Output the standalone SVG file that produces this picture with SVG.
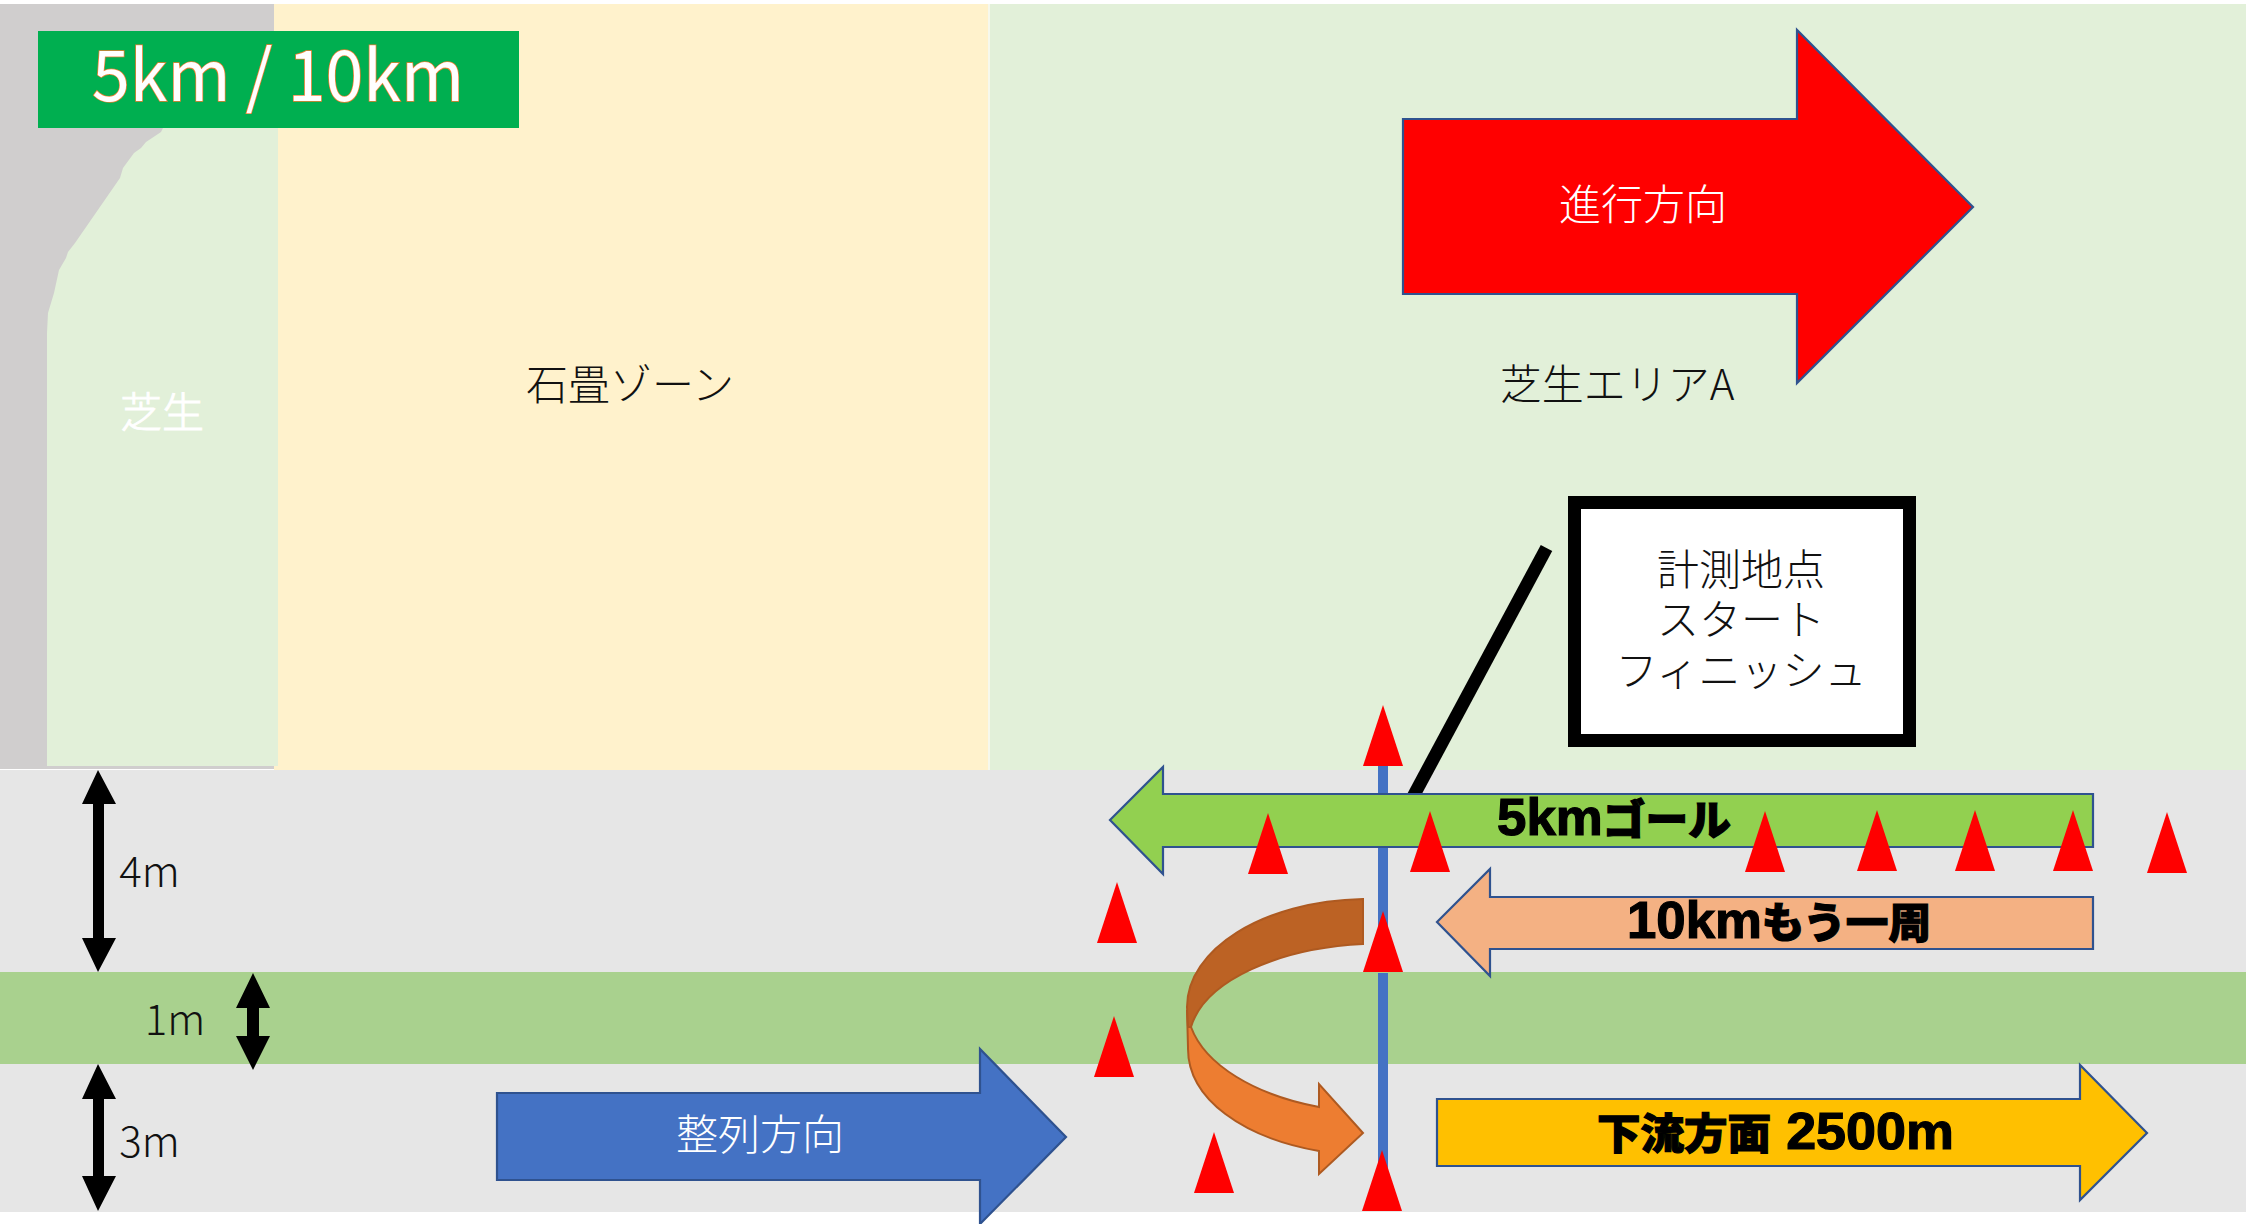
<svg xmlns="http://www.w3.org/2000/svg" width="2246" height="1224" viewBox="0 0 2246 1224">
<style>
.t{font-family:"Noto Sans CJK JP","Noto Sans",sans-serif;font-weight:300;fill:#111;font-size:42px;text-anchor:middle}
.w{fill:#fff}
.b{font-family:"Liberation Sans","Noto Sans CJK JP",sans-serif;font-weight:700;fill:#000;font-size:52px;stroke:#000;stroke-width:1.2}
.c{font-family:"Noto Sans CJK JP",sans-serif;font-weight:900;font-size:42px}
.ar{stroke:#2F528F;stroke-width:2.2;stroke-linejoin:miter}
.cone{fill:#F00}
.dim{fill:#000}
</style>
<defs>
<polygon id="cone" class="cone" points="0,0 20,61 -20,61"/>
</defs>
<rect width="2246" height="1224" fill="#fff"/>
<g id="background">
<rect x="0" y="4" width="276" height="765" fill="#D0CECE"/>
<rect x="274" y="4" width="714" height="766" fill="#FFF2CC"/>
<rect x="988" y="4" width="2" height="766" fill="#F6F8EC"/>
<rect x="990" y="4" width="1256" height="766" fill="#E2F0D9"/>
<path d="M163 128L161 132L146 142L141 148L134 153L123 168L120 178L75 243L68 252L66 258L59 270L54 293L48 313L47 333L47 766L278 766L278 128Z" fill="#E2F0D9"/>
<rect x="0" y="770" width="2246" height="442" fill="#E6E6E6"/>
<rect x="0" y="972" width="2246" height="92" fill="#A9D18E"/>
</g>
<g id="zone-labels">
<text class="t" x="630" y="399.5">石畳ゾーン</text>
<text class="t" x="1617" y="399.5">芝生エリアA</text>
<text class="t" x="162" y="428" style="fill:#fff;stroke:#fff;stroke-width:.9">芝生</text>
</g>
<g id="title"><rect x="38" y="31" width="481" height="97" fill="#00AF50"/>
<text x="92" y="101" textLength="372" lengthAdjust="spacingAndGlyphs" font-family="'Noto Sans CJK JP','Noto Sans',sans-serif" font-size="70" fill="#fff" stroke="#ED7D31" stroke-width="1.6" paint-order="stroke">5km / 10km</text></g>
<g id="connectors">
<rect x="1378" y="766" width="10" height="206" fill="#4472C4"/>
<rect x="1378" y="973" width="10" height="220" fill="#4472C4"/>
<line x1="1546.5" y1="548" x2="1408.6" y2="805" stroke="#000" stroke-width="13"/>
</g>
<g id="arrow-direction"><polygon class="ar" fill="#F00" points="1403,119 1797,119 1797,30 1973,207 1797,383 1797,294 1403,294"/><text class="t w" x="1643" y="220">進行方向</text></g>
<g id="measure-box"><rect x="1574.5" y="502.5" width="335" height="238" fill="#fff" stroke="#000" stroke-width="13"/>
<text class="t"><tspan x="1741" y="585">計測地点</tspan><tspan x="1741" y="635">スタート</tspan><tspan x="1741" y="686">フィニッシュ</tspan></text></g>
<g id="arrow-5km"><polygon class="ar" fill="#92D050" points="1110,820 1163,767 1163,794 2093,794 2093,847 1163,847 1163,874"/><text class="b" x="1497" y="835" textLength="234" lengthAdjust="spacingAndGlyphs">5km<tspan class="c">ゴール</tspan></text></g>
<g id="arrow-10km"><polygon class="ar" fill="#F4B183" points="1437,922 1490,869 1490,897 2093,897 2093,949 1490,949 1490,976"/><text class="b" x="1627" y="938" textLength="304" lengthAdjust="spacingAndGlyphs">10km<tspan class="c">もう一周</tspan></text></g>
<g id="arrow-downstream"><polygon class="ar" fill="#FFC000" points="1437,1099 2080,1099 2080,1065 2147,1133 2080,1200 2080,1166 1437,1166"/><text class="b" x="1597" y="1149" textLength="357" lengthAdjust="spacingAndGlyphs"><tspan class="c">下流方面</tspan> 2500m</text></g>
<g id="arrow-align"><polygon class="ar" fill="#4472C4" points="497,1093 980,1093 980,1049 1066,1137 980,1224 980,1180 497,1180"/><text class="t w" x="760" y="1150">整列方向</text></g>
<g id="u-turn">
<path d="M1191 1027C1205 1065 1255 1095 1319 1107L1319 1084L1363 1133L1319 1174L1319 1151C1245 1138 1187 1100 1188 1047L1187 1010Z" fill="#ED7D31" stroke="#AE5A21" stroke-width="2"/>
<path d="M1363 899C1262 901 1187 950 1187 1007L1188 1027L1191 1027C1205 980 1280 948 1363 944Z" fill="#BC6224" stroke="#AE5A21" stroke-width="2"/>
</g>
<g id="cones">
<use href="#cone" x="1383" y="705"/><use href="#cone" x="1268" y="813"/><use href="#cone" x="1430" y="811"/>
<use href="#cone" x="1117" y="882"/><use href="#cone" x="1383" y="911"/><use href="#cone" x="1114" y="1016"/>
<use href="#cone" x="1214" y="1132"/><use href="#cone" x="1382" y="1150"/><use href="#cone" x="1765" y="811"/>
<use href="#cone" x="1877" y="810"/><use href="#cone" x="1975" y="810"/><use href="#cone" x="2073" y="810"/><use href="#cone" x="2167" y="812"/>
</g>
<g id="dimensions">
<polygon class="dim" points="98,770 116,804 104,804 104,938 116,938 98,972 82,938 93,938 93,804 82,804"/>
<polygon class="dim" points="253,973 270,1008 259,1008 259,1036 270,1036 253,1070 236,1036 247,1036 247,1008 236,1008"/>
<polygon class="dim" points="98,1064 116,1099 104,1099 104,1176 116,1176 98,1211 82,1176 93,1176 93,1099 82,1099"/>
<text class="t" x="149.5" y="887">4m</text><text class="t" x="175" y="1035">1m</text><text class="t" x="149.5" y="1157">3m</text>
</g>
</svg>
